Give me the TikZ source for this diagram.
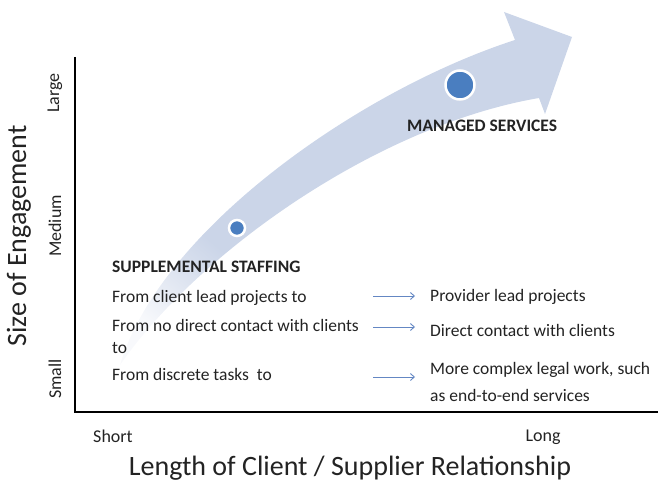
\documentclass[tikz,border=0pt]{standalone}
\usepackage{fontspec}
\setmainfont{Carlito}
\usetikzlibrary{arrows.meta,shadows}
\definecolor{arrowc}{RGB}{203,213,232}
\definecolor{dotc}{RGB}{74,126,192}
\definecolor{txt}{RGB}{35,35,35}
\definecolor{lnk}{RGB}{100,135,195}
\pgfdeclareverticalshading{arrowshade}{100bp}{color(0bp)=(arrowc!5); color(21bp)=(arrowc!15); color(29bp)=(arrowc!70); color(34bp)=(arrowc); color(100bp)=(arrowc)}
\begin{document}
\begin{tikzpicture}[x=1pt,y=-1pt,
  lbl/.style={font=\fontsize{18}{20}\selectfont, text=txt, inner sep=0pt},
  body/.style={font=\fontsize{17.5}{20}\selectfont, text=txt, inner sep=0pt, anchor=base west},
  headtxt/.style={font=\fontsize{17.5}{20}\selectfont\bfseries, text=txt, inner sep=0pt, anchor=base west},
  ttl/.style={font=\fontsize{28}{30}\selectfont, text=txt, inner sep=0pt},
  axisline/.style={line width=2.5pt, black, line join=miter},
  link/.style={lnk, line width=0.9pt, -{Straight Barb[length=4pt,width=7pt]}},
  dot/.style={circle, fill=dotc, draw=white, line width=2.5pt, inner sep=0pt,
    drop shadow={opacity=0.35, shadow xshift=0.6pt, shadow yshift=-1pt}}
]
\useasboundingbox (0,0) rectangle (658,481);
% big curved arrow
\shade[shading=arrowshade, shading angle=-40]
  (120,365) .. controls (160,230) and (360,90) .. (515,40) -- (504,12) -- (572,37)
  -- (545,114) -- (539,98) .. controls (380,125) and (200,250) .. (120,365) -- cycle;
% dots
\node[dot, minimum size=16pt] (sdot) at (237,228) {};
\node[dot, minimum size=29pt] (mdot) at (460,85) {};
% axes
\coordinate (ytop) at (75,57);
\coordinate (orig) at (75,412);
\coordinate (xend) at (658,412);
\draw[axisline] (ytop) -- (orig) -- (xend);
% axis labels
\node[ttl, rotate=90] (ytitle) at (19,236) {Size of Engagement};
\node[lbl, rotate=90] (large) at (55,93) {Large};
\node[lbl, rotate=90] (medium) at (55,226) {Medium};
\node[lbl, rotate=90] (small) at (55,379) {Small};
\node[lbl] (short) at (113,436) {Short};
\node[lbl] (long) at (543,437) {Long};
\node[ttl] (xtitle) at (350,468) {Length of Client / Supplier Relationship};
% texts
\node[headtxt] (managed) at (407,131.5) {MANAGED SERVICES};
\node[headtxt] (supp) at (112,272) {SUPPLEMENTAL STAFFING};
\node[body] (l1) at (112,302) {From client lead projects to};
\node[body] (l2) at (112,331) {From no direct contact with clients};
\node[body] (l2b) at (112,353) {to};
\node[body] (l3) at (112,380) {From discrete tasks\ \ to};
\node[body] (r1) at (430,301) {Provider lead projects};
\node[body] (r2) at (430,336) {Direct contact with clients};
\node[body] (r3) at (430,374) {More complex legal work, such};
\node[body] (r4) at (430,401) {as end-to-end services};
% link arrows
\coordinate (a1s) at (373,296); \coordinate (a1e) at (415,296);
\coordinate (a2s) at (373,327); \coordinate (a2e) at (415,327);
\coordinate (a3s) at (373,377); \coordinate (a3e) at (415,377);
\draw[link] (a1s) -- (a1e);
\draw[link] (a2s) -- (a2e);
\draw[link] (a3s) -- (a3e);
\end{tikzpicture}
\end{document}
